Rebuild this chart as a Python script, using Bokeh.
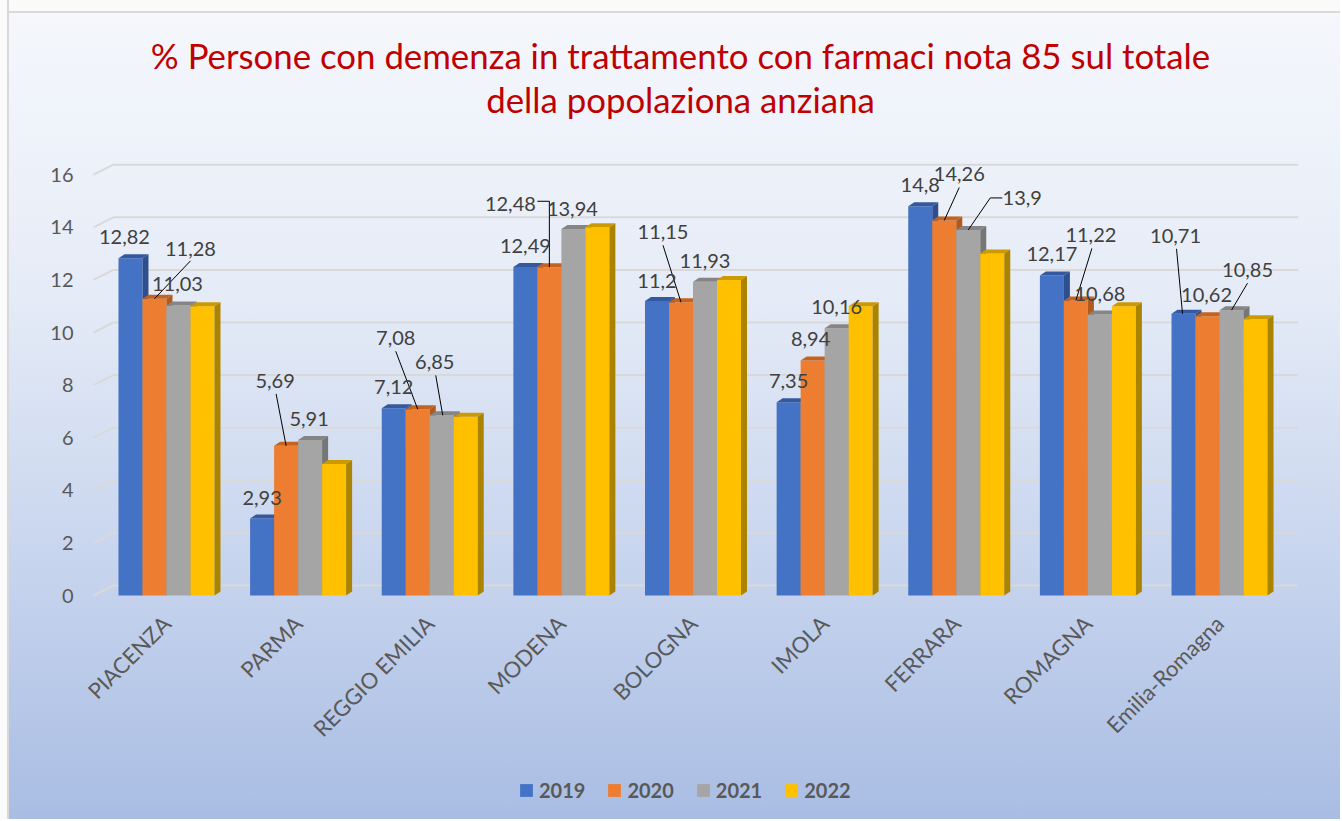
import math
from bokeh.plotting import figure
from bokeh.models import (FactorRange, Range1d, ColumnDataSource, Legend, LegendItem,
                          Label, FixedTicker)
from bokeh.core.properties import value
from bokeh.embed import file_html
from bokeh.resources import INLINE

# ---------------- data ----------------
categories = ["PIACENZA", "PARMA", "REGGIO EMILIA", "MODENA", "BOLOGNA",
              "IMOLA", "FERRARA", "ROMAGNA", "Emilia-Romagna"]
years = ["2019", "2020", "2021", "2022"]
v2019 = [12.82, 2.93, 7.12, 12.49, 11.2, 7.35, 14.8, 12.17, 10.71]
v2020 = [11.28, 5.69, 7.08, 12.48, 11.15, 8.94, 14.26, 11.22, 10.62]
v2021 = [11.03, 5.91, 6.85, 13.94, 11.93, 10.16, 13.9, 10.68, 10.85]
v2022 = [11.0, 5.0, 6.8, 14.0, 12.0, 11.0, 13.0, 11.0, 10.5]
y_ticks = [0, 2, 4, 6, 8, 10, 12, 14, 16]
title_line1 = "% Persone con demenza in trattamento con farmaci nota 85 sul totale"
title_line2 = "della popolaziona anziana"

series = [v2019, v2020, v2021, v2022]
labeled = [True, True, True, False]   # 2022 carries no data labels

# ---------------- style / layout ----------------
front_col = ["#4472c4", "#ed7d31", "#a5a5a5", "#ffc000"]
top_col = ["#35599e", "#c4621f", "#858585", "#cc9a00"]
side_col = ["#2d4f8e", "#b05a1c", "#767676", "#aa8400"]
FONT = "Lato"
W, H = 1340, 819
MB_L, MB_R = 87, 42
FW = W - MB_L - MB_R
X0, X1 = -0.1, 9.1
SX = FW / (X1 - X0)          # px per category unit
SY = 26.3                     # px per value unit
ZERO_PX = 595                 # screen row of value 0
Y1 = ZERO_PX / SY
Y0 = -(H - ZERO_PX) / SY
BW = 24 / SX
DX, DY = 6 / SX, 4 / SY
GDX, GDY = 20 / SX, 10 / SY

def sx_to_x(px):
    return X0 + (px - MB_L) / SX

def sy_to_y(py):
    return (ZERO_PX - py) / SY

# label offsets in px (dx, dy upward) from the bar's front-top centre, optional leader polyline
label_layout = {
    (0, 0): ((-6, 21), None), (0, 1): ((36, 50), [(36, 38), (0, 0)]), (0, 2): ((-1, 21), None),
    (1, 0): ((0, 20), None), (1, 1): ((-11, 65), [(-10, 52), (0, 0)]), (1, 2): ((-1, 21), None),
    (2, 0): ((0, 21), None), (2, 1): ((-22, 71), [(-22, 58), (0, 0)]), (2, 2): ((-7, 53), [(-6, 40), (1, 0)]),
    (3, 0): ((0, 21), None), (3, 1): ((-39, 63), [(-12, 66), (0, 66), (0, 0)]), (3, 2): ((-1, 20), None),
    (4, 0): ((0, 20), None), (4, 1): ((-18, 70), [(-18, 57), (0, 0)]), (4, 2): ((0, 21), None),
    (5, 0): ((0, 21), None), (5, 1): ((-2, 21), None), (5, 2): ((0, 21), None),
    (6, 0): ((0, 21), None), (6, 1): ((15, 46), [(15, 33), (0, 0)]), (6, 2): ((54, 32), [(34, 32), (22, 32), (0, 0)]),
    (7, 0): ((0, 21), None), (7, 1): ((15, 65), [(16, 52), (0, 0)]), (7, 2): ((0, 21), None),
    (8, 0): ((-8, 78), [(-7, 65), (-1, 0)]), (8, 1): ((-1, 21), None), (8, 2): ((16, 40), [(16, 27), (0, 0)]),
}

p = figure(width=W, height=H,
           x_range=FactorRange(*categories, range_padding=0.1, range_padding_units="absolute"),
           y_range=Range1d(Y0, Y1),
           output_backend="svg", toolbar_location=None, title_location=None,
           min_border_left=MB_L, min_border_right=MB_R, min_border_top=0, min_border_bottom=0,
           background_fill_alpha=0, border_fill_alpha=0, outline_line_color=None)

p.styles = {
    "background": "linear-gradient(to right, #fafafa 0px, #fafafa 7px, #d9d9d9 7px, #d9d9d9 9px, rgba(0,0,0,0) 9px), "
                  "linear-gradient(to bottom, #fafafa 0px, #fafafa 11px, #d9d9d9 11px, #d9d9d9 13px, "
                  "#f5f7fc 13px, #e6ecf7 35%, #c8d5ee 68%, #a9bde3 100%)",
}

# ---------- 3D gridlines (back wall) ----------
gx, gy = [], []
for t in y_ticks:
    gx.append([X0 + 0.045, X0 + 0.045 + GDX, X1])
    gy.append([t, t + GDY, t + GDY])
p.multi_line(gx, gy, line_color="#d9d9d9", line_width=2)

# ---------- 3D bars ----------
fronts = []
for s, vals in enumerate(series):
    centers = [i + 0.5 + (s - 1.5) * BW for i in range(len(categories))]
    left = [c - BW / 2 for c in centers]
    right = [c + BW / 2 for c in centers]
    src = ColumnDataSource(dict(left=left, right=right, top=vals, bottom=[0] * len(vals)))
    fr = p.quad(left="left", right="right", top="top", bottom="bottom", source=src,
                fill_color=front_col[s], line_color=None)
    fronts.append(fr)
    top_xs = [[l, r, r + DX, l + DX] for l, r in zip(left, right)]
    top_ys = [[v, v, v + DY, v + DY] for v in vals]
    p.patches(top_xs, top_ys, fill_color=top_col[s], line_color=None)
    side_xs = [[r, r + DX, r + DX, r] for r in right]
    side_ys = [[0, DY, v + DY, v] for v in vals]
    p.patches(side_xs, side_ys, fill_color=side_col[s], line_color=None)

# ---------- data labels ----------
lx, ly, lt, xo, yo = [], [], [], [], []
lead_x, lead_y = [], []
for s, vals in enumerate(series):
    if not labeled[s]:
        continue
    for i, v in enumerate(vals):
        c = i + 0.5 + (s - 1.5) * BW
        (dx, dy), leader = label_layout[(i, s)]
        lx.append(c)
        ly.append(v)
        lt.append(("%g" % v).replace(".", ","))
        xo.append(dx)
        yo.append(-dy)
        if leader:
            lead_x.append([c + px / SX for px, py in leader])
            lead_y.append([v + py / SY for px, py in leader])
p.multi_line(lead_x, lead_y, line_color="#000000", line_width=1)
p.text(x=lx, y=ly, text=lt, x_offset=xo, y_offset=yo, text_align="center", text_baseline="middle",
       text_font=value(FONT), text_font_size="20px", text_color="#404040")

# ---------- axes ----------
p.xgrid.visible = False
p.ygrid.visible = False
p.yaxis.ticker = FixedTicker(ticks=y_ticks)
p.yaxis.axis_line_color = None
p.yaxis.major_tick_line_color = None
p.yaxis.minor_tick_line_color = None
p.yaxis.major_tick_out = 0
p.yaxis.major_label_standoff = 14
p.yaxis.major_label_text_font = FONT
p.yaxis.major_label_text_font_size = "20px"
p.yaxis.major_label_text_color = "#595959"

p.xaxis.fixed_location = 0
p.xaxis.axis_line_color = None
p.xaxis.major_tick_line_color = None
p.xaxis.major_tick_out = 0
p.xaxis.major_tick_in = 0
p.xaxis.major_label_orientation = math.pi / 4
p.xaxis.major_label_standoff = 24
p.xaxis.major_label_text_font = FONT
p.xaxis.major_label_text_font_size = "22px"
p.xaxis.major_label_text_color = "#595959"

# ---------- title (two centred lines) ----------
for txt, row in ((title_line1, 55), (title_line2, 99)):
    p.add_layout(Label(x=sx_to_x(680), y=sy_to_y(row), text=txt, text_align="center",
                       text_baseline="middle", text_font=FONT, text_font_size="34.8px",
                       text_color="#c00000"))

# ---------- legend ----------
legend = Legend(items=[LegendItem(label=y, renderers=[fronts[k]]) for k, y in enumerate(years)],
                orientation="horizontal", location=(431, 17),
                label_text_font=FONT, label_text_font_style="bold", label_text_font_size="20px",
                label_text_color="#595959", glyph_width=16, glyph_height=16,
                spacing=21, label_standoff=5, border_line_alpha=0, background_fill_alpha=0,
                margin=0, padding=0)
p.add_layout(legend, "center")

open("out.html", "w").write(file_html(p, INLINE))
